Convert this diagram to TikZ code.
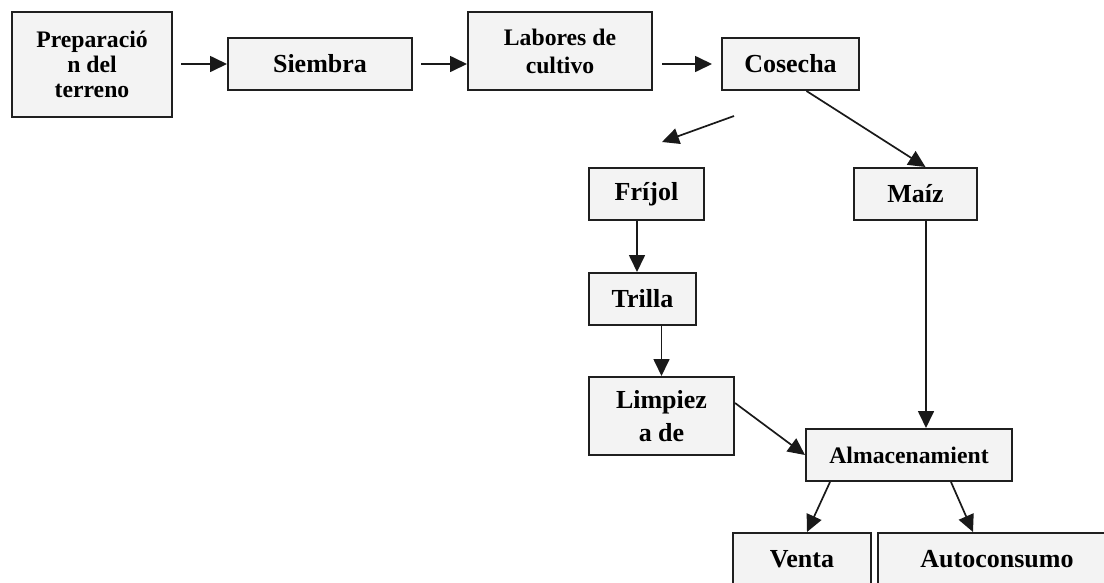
\documentclass[tikz,border=0pt]{standalone}
\usepackage{fontspec}
\setmainfont{Liberation Serif}
\usepackage{tikz}
\usetikzlibrary{arrows.meta}

\begin{document}
\begin{tikzpicture}[x=1pt,y=-1pt,
            step node/.style={rectangle,draw=black!88,line width=2pt,fill={rgb,255:red,243;green,243;blue,243},
                inner sep=0pt,align=center,font=\fontsize{26}{33}\selectfont\bfseries,minimum height=52pt},
            small text/.style={font=\fontsize{23.7}{25}\selectfont\bfseries},
            flow arrow/.style={draw=black!90,line width=1.7pt,-{Triangle[length=17pt,width=16pt]}},
            ]
            \clip (0,0) rectangle (1104,582);
            \useasboundingbox (0,0) rectangle (1104,582);

            \node[step node, small text, minimum width=160pt, minimum height=105pt] (prep) at (92,64.5) {Preparació\\n del\\terreno};
            \node[step node, minimum width=184pt] (siembra) at (320,64) {Siembra};
            \node[step node, small text, minimum width=184pt, minimum height=78pt, font=\fontsize{23.7}{28}\selectfont\bfseries] (labores) at (560,51) {Labores de\\cultivo};
            \node[step node, minimum width=137pt] (cosecha) at (790.5,64) {Cosecha};
            \node[step node, minimum width=115pt] (frijol) at (646.5,194) {Fríjol};
            \node[step node, minimum width=123pt] (maiz) at (915.5,194) {Maíz};
            \node[step node, minimum width=107pt] (trilla) at (642.5,299) {Trilla};
            \node[step node, minimum width=145pt, minimum height=78pt] (limpieza) at (661.5,416) {Limpiez\\a de};
            \node[step node, small text, minimum width=206pt] (almac) at (909,455) {Almacenamient};
            \node[step node, minimum width=138pt] (venta) at (802,559) {Venta};
            \node[step node, minimum width=238pt] (autoc) at (997,559) {Autoconsumo};

            \coordinate (split) at (734,116);
            \coordinate (splitend) at (662,142);

            \draw[flow arrow, shorten <=8pt] (prep.east |- siembra) -- (siembra.west);
            \draw[flow arrow, shorten <=8pt] (siembra.east) -- (siembra -| labores.west);
            \draw[flow arrow, shorten <=9pt, shorten >=9pt] (labores.east |- cosecha) -- (cosecha.west);
            \draw[flow arrow] (split) -- (splitend);
            \draw[flow arrow] ([xshift=16pt]cosecha.south) -- ([xshift=10pt]maiz.north);
            \draw[flow arrow] ([xshift=-9.5pt]frijol.south) -- ([xshift=-9.5pt]frijol.south |- trilla.north);
            \draw[flow arrow] (trilla.south -| limpieza.north) -- (limpieza.north);
            \draw[flow arrow] ([yshift=13pt]limpieza.east) -- (almac.west);
            \draw[flow arrow] ([xshift=10.5pt]maiz.south) -- ([xshift=10.5pt]maiz.south |- almac.north);
            \draw[flow arrow] ([xshift=-79pt]almac.south) -- ([xshift=5pt]venta.north);
            \draw[flow arrow] ([xshift=42pt]almac.south) -- ([xshift=-24pt]autoc.north);
        \end{tikzpicture}
\end{document}
